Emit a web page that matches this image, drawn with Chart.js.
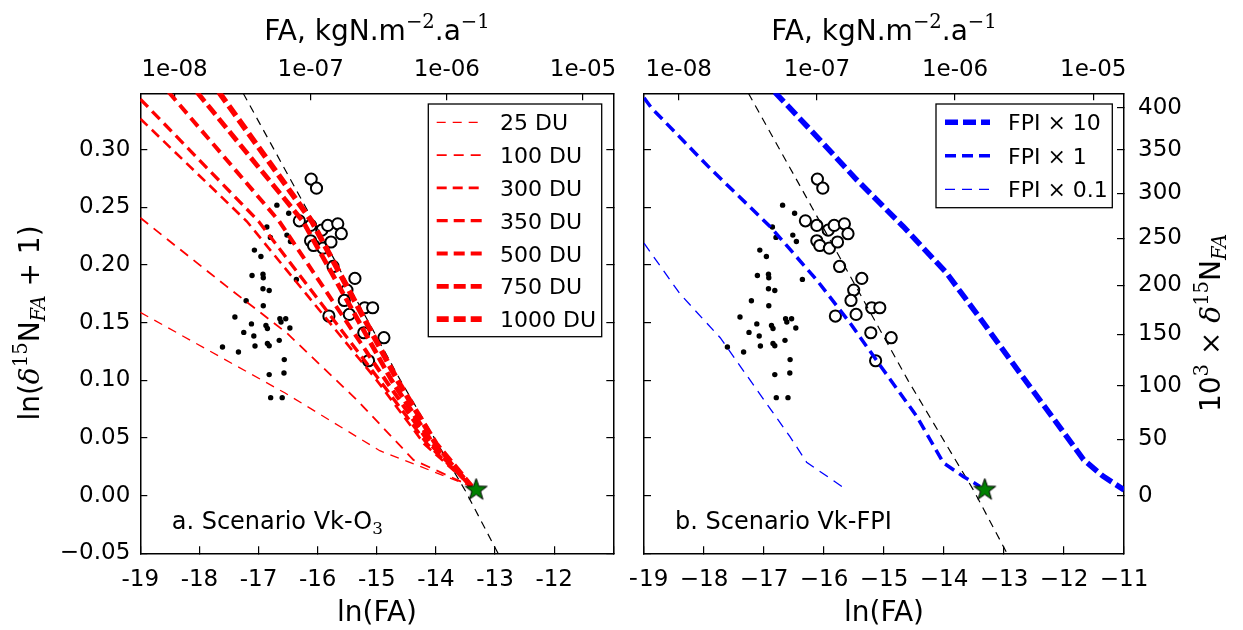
<!DOCTYPE html>
<html>
<head>
<meta charset="utf-8">
<title>Scenario Vk-O3 / Vk-FPI</title>
<script src="https://cdn.jsdelivr.net/npm/chart.js@4.4.1/dist/chart.umd.min.js"></script>
<style>
  html, body { margin: 0; padding: 0; background: #fff; }
  #wrap { position: relative; width: 1243px; height: 630px; overflow: hidden; background: #fff; }
  #wrap canvas { position: absolute; top: 0; }
</style>
</head>
<body>
<div id="wrap">
  <canvas id="panelA" width="630" height="630" style="left:0"></canvas>
  <canvas id="panelB" width="613" height="630" style="left:630px"></canvas>
</div>
<script>
// ---- values ----
const lnFaTicks = [-19, -18, -17, -16, -15, -14, -13, -12, -11];
const yTicks = [-0.05, 0, 0.05, 0.10, 0.15, 0.20, 0.25, 0.30];
const faTicks = [1e-8, 1e-7, 1e-6, 1e-5];
const faTickLabels = ['1e-08', '1e-07', '1e-06', '1e-05'];
const deltaTicks = [0, 50, 100, 150, 200, 250, 300, 350, 400];

// small black dots
const dotsX = [-16.69, -16.49, -16.86, -16.80, -16.52, -16.46, -17.07, -16.96, -17.11, -16.925,
               -16.92, -16.36, -16.925, -16.82, -17.21, -16.92, -17.40, -17.12, -16.64, -16.54,
               -16.62, -16.875, -16.85, -16.47, -17.25, -17.08, -17.61, -17.34, -17.06, -16.85,
               -16.82, -16.65, -16.565, -16.82, -16.57, -16.795, -16.60];
const dotsY = [0.252, 0.245, 0.233, 0.224, 0.226, 0.2205, 0.213, 0.2075, 0.191, 0.192,
               0.189, 0.1876, 0.1795, 0.178, 0.169, 0.1647, 0.155, 0.149, 0.1535, 0.1535,
               0.1506, 0.1477, 0.145, 0.1454, 0.1416, 0.1385, 0.129, 0.1246, 0.1298, 0.132,
               0.130, 0.1347, 0.118, 0.105, 0.1064, 0.085, 0.085];

// open circles
const circlesX = [-16.11, -16.02, -16.31, -16.12, -15.93, -15.83, -15.66, -15.60, -16.12, -16.07,
                  -15.91, -15.775, -15.74, -15.37, -15.505, -15.55, -15.205, -15.07, -15.81, -15.465,
                  -15.22, -14.88, -15.14];
const circlesY = [0.2746, 0.2667, 0.2384, 0.2344, 0.2303, 0.2344, 0.2358, 0.2272, 0.2211, 0.217,
                  0.2147, 0.22, 0.1988, 0.1884, 0.1783, 0.1693, 0.163, 0.163, 0.1558, 0.1572,
                  0.1413, 0.137, 0.117];

const starX = [-13.32];
const starY = [0.005];

// black dashed reference line
const refLine = [[-17.26, 0.349], [-16.2, 0.25], [-14.6, 0.1], [-13.5, 0.004], [-12.95, -0.05]];

// panel a: ozone column scenarios
const duLabels = ['25 DU', '100 DU', '300 DU', '350 DU', '500 DU', '750 DU', '1000 DU'];
const du25 = [[-19, 0.159], [-16.55, 0.089], [-14.95, 0.039], [-13.4, 0.008]];
const du100 = [[-19, 0.241], [-17.54, 0.1815], [-16.52, 0.141], [-15.34, 0.0832], [-14.38, 0.031], [-13.4, 0.008]];
const du300 = [[-19, 0.327], [-17.2, 0.238], [-15.0, 0.100], [-14.2, 0.045], [-13.4, 0.008]];
const du350 = [[-19, 0.344], [-17.0, 0.238], [-14.95, 0.100], [-14.15, 0.045], [-13.4, 0.008]];
const du500 = [[-18.52, 0.35], [-16.65, 0.238], [-14.85, 0.100], [-14.1, 0.045], [-13.4, 0.008]];
const du750 = [[-18.04, 0.35], [-16.25, 0.238], [-14.75, 0.100], [-14.05, 0.045], [-13.4, 0.008]];
const du1000 = [[-17.67, 0.35], [-16.1, 0.238], [-14.65, 0.100], [-14.0, 0.045], [-13.4, 0.008]];

// panel b: FPI scenarios
const fpiLabels = ['FPI \u00d7 10', 'FPI \u00d7 1', 'FPI \u00d7 0.1'];
const fpi10 = [[-16.82, 0.35], [-16.12, 0.3115], [-15.455, 0.274], [-14.68, 0.2335], [-13.955, 0.193],
               [-13.345, 0.150], [-12.73, 0.106], [-12.12, 0.063], [-11.675, 0.0312], [-11.345, 0.0167], [-11.0, 0.005]];
const fpi1 = [[-19, 0.345], [-18.87, 0.336], [-17.9, 0.284], [-16.9, 0.2335], [-16.12, 0.187], [-15.57, 0.150],
              [-15.01, 0.109], [-14.455, 0.0688], [-14.01, 0.0284], [-13.68, 0.0167], [-13.4, 0.008]];
const fpi01 = [[-19, 0.219], [-18.4, 0.175], [-17.73, 0.137], [-17.0, 0.083], [-16.57, 0.0514], [-16.29, 0.029], [-15.62, 0.005]];

// ---- helpers ----
Chart.defaults.font.family = "'DejaVu Sans', sans-serif";
Chart.defaults.color = '#000';

const pts = arr => arr.map(([x, y]) => ({ x, y }));
const zip = (xs, ys) => xs.map((x, i) => ({ x, y: ys[i] }));

function setTicks(values) {
    return scale => { scale.ticks = values.map(v => ({ value: v })); };
}

function fitTo(size) {
    return s => {
        if (s.isHorizontal()) s.height = size; else s.width = size;
        s.paddingLeft = s.paddingRight = s.paddingTop = s.paddingBottom = 0;
    };
}

// text with super/subscripts, drawn on the chart canvas
function drawRich(ctx, parts, x, y, opts) {
    const size = opts.size;
    const fontOf = p => {
        const sz = (p.sup || p.sub) ? size * 0.7 : size;
        const fam = p.f === 's' ? "'DejaVu Sans'" : "'DejaVu Serif'";
        return (p.f === 'i' ? 'italic ' : '') + sz + 'px ' + fam;
    };
    ctx.save();
    ctx.translate(x, y);
    if (opts.rot) ctx.rotate(opts.rot);
    let w = 0;
    const widths = parts.map(p => { ctx.font = fontOf(p); const m = ctx.measureText(p.t).width; w += m; return m; });
    let cx = opts.align === 'center' ? -w / 2 : 0;
    ctx.fillStyle = '#000';
    ctx.textBaseline = 'alphabetic';
    ctx.textAlign = 'left';
    parts.forEach((p, i) => {
        ctx.font = fontOf(p);
        const dy = p.sup ? -size * 0.42 : (p.sub ? size * 0.22 : 0);
        ctx.fillText(p.t, cx, dy);
        cx += widths[i];
    });
    ctx.restore();
}
const S = (t, o) => Object.assign({ t, f: 's' }, o);
const R = (t, o) => Object.assign({ t, f: 'r' }, o);
const I = (t, o) => Object.assign({ t, f: 'i' }, o);

function labelParts(label) {
    const bits = label.split('\u00d7');
    if (bits.length === 1) return [S(label)];
    return [S(bits[0]), R('\u00d7'), S(bits[1])];
}

function makeStar(r) {
    const c = document.createElement('canvas');
    const s = Math.ceil(r * 2 + 4);
    c.width = c.height = s;
    const g = c.getContext('2d');
    g.beginPath();
    for (let i = 0; i < 10; i++) {
        const rad = i % 2 ? r * 0.4 : r;
        const a = -Math.PI / 2 + i * Math.PI / 5;
        g.lineTo(s / 2 + rad * Math.cos(a), s / 2 + rad * Math.sin(a));
    }
    g.closePath();
    g.fillStyle = '#008000';
    g.fill();
    g.strokeStyle = '#000';
    g.lineWidth = 1;
    g.stroke();
    return c;
}
const starImg = makeStar(11.5);

function lineSet(label, data, color, width, dash, inLegend) {
    return {
        label, data: pts(data), showLine: true, borderColor: color, borderWidth: width, borderDash: dash,
        borderCapStyle: 'butt', pointRadius: 0, pointHoverRadius: 0, fill: false, tension: 0, clip: 0,
        order: inLegend ? 1 : 2, inLegend
    };
}

function commonSets() {
    return [
        lineSet('ref', refLine, '#000', 1.2, [8, 6], false),
        { label: 'circles', data: zip(circlesX, circlesY), pointRadius: 5.6, pointHoverRadius: 5.6, pointBorderWidth: 2,
          pointBorderColor: '#000', pointBackgroundColor: '#fff', order: 3 },
        { label: 'dots', data: zip(dotsX, dotsY), pointRadius: 2.7, pointHoverRadius: 2.7, pointBorderWidth: 0,
          pointBackgroundColor: '#000', order: 4 },
        { label: 'star', data: zip(starX, starY), pointStyle: starImg, order: 0 }
    ];
}

function panelScales(isA) {
    const grid = () => ({ display: true, drawOnChartArea: false, drawTicks: true, tickLength: -7, color: '#000', lineWidth: 1.2 });
    const border = () => ({ display: true, color: '#000', width: 1.5 });
    const tick = extra => Object.assign({ font: { size: 23 }, color: '#000', autoSkip: false, maxRotation: 0, minRotation: 0 }, extra);
    return {
        x: {
            type: 'linear', position: 'bottom', min: -19, max: -11, bounds: 'data', grid: grid(), border: border(),
            afterBuildTicks: setTicks(lnFaTicks), afterFit: fitTo(76.7),
            ticks: tick({ padding: 20, callback: v => isA ? (v === -11 ? '' : String(v)) : String(v).replace('-', '\u2212') })
        },
        xTop: {
            type: 'linear', position: 'top', min: -19, max: -11, bounds: 'data', grid: grid(), border: border(),
            afterBuildTicks: setTicks(faTicks.map(Math.log)), afterFit: fitTo(93.3),
            ticks: tick({ padding: 16, callback: (v, i) => faTickLabels[i] })
        },
        y: {
            type: 'linear', position: 'left', min: -0.05, max: 0.349, bounds: 'data', grid: grid(), border: border(),
            afterBuildTicks: setTicks(yTicks), afterFit: fitTo(isA ? 140.3 : 14),
            ticks: tick({ display: isA, padding: 17, callback: v => v < -1e-9 ? '\u2212' + Math.abs(v).toFixed(2) : Math.abs(v).toFixed(2) })
        },
        yR: {
            type: 'linear', position: 'right', min: -0.05, max: 0.349, bounds: 'data', grid: grid(), border: border(),
            afterBuildTicks: setTicks(isA ? yTicks : deltaTicks.map(d => Math.log(1 + d / 1000))),
            afterFit: fitTo(isA ? 16.7 : 119),
            ticks: tick({ display: !isA, padding: 21, callback: (v, i) => String(deltaTicks[i]) })
        }
    };
}

function legendPlugin(cfg) {
    return {
        id: 'boxLegend',
        afterDatasetsDraw(chart) {
            const ctx = chart.ctx;
            const items = chart.data.datasets.filter(d => d.inLegend);
            ctx.save();
            ctx.fillStyle = '#fff';
            ctx.fillRect(cfg.x0, cfg.y0, cfg.x1 - cfg.x0, cfg.y1 - cfg.y0);
            ctx.strokeStyle = '#000';
            ctx.lineWidth = 1.3;
            ctx.strokeRect(cfg.x0, cfg.y0, cfg.x1 - cfg.x0, cfg.y1 - cfg.y0);
            items.forEach((d, i) => {
                const y = cfg.rowY + i * cfg.step;
                ctx.beginPath();
                ctx.setLineDash(d.borderDash);
                ctx.lineCap = 'butt';
                ctx.lineWidth = d.borderWidth;
                ctx.strokeStyle = d.borderColor;
                ctx.moveTo(cfg.sx0, y);
                ctx.lineTo(cfg.sx1, y);
                ctx.stroke();
                ctx.setLineDash([]);
                drawRich(ctx, labelParts(d.label), cfg.tx, y + 8, { size: 22 });
            });
            ctx.restore();
        }
    };
}

function textPlugin(draw) {
    return { id: 'panelText', afterDraw(chart) { draw(chart.ctx); } };
}

const faTitle = [S('FA, kgN.m'), R('\u22122', { sup: 1 }), S('.a'), R('\u22121', { sup: 1 })];

// ---- panel a ----
new Chart(document.getElementById('panelA'), {
    type: 'scatter',
    data: {
        datasets: [
            lineSet(duLabels[0], du25, '#ff0000', 1.3, [9, 7], true),
            lineSet(duLabels[1], du100, '#ff0000', 1.8, [10, 7], true),
            lineSet(duLabels[2], du300, '#ff0000', 2.6, [10, 6], true),
            lineSet(duLabels[3], du350, '#ff0000', 3.3, [11, 6], true),
            lineSet(duLabels[4], du500, '#ff0000', 4.0, [11, 6], true),
            lineSet(duLabels[5], du750, '#ff0000', 4.8, [12, 5], true),
            lineSet(duLabels[6], du1000, '#ff0000', 5.6, [12, 5], true),
            ...commonSets()
        ]
    },
    options: {
        responsive: false, animation: false, events: [],
        layout: { padding: 0, autoPadding: false },
        plugins: { legend: { display: false }, tooltip: { enabled: false } },
        scales: panelScales(true)
    },
    plugins: [
        legendPlugin({ x0: 428.3, y0: 104, x1: 601.7, y1: 336.7, rowY: 122.3, step: 32.8, sx0: 436.7, sx1: 481.7, tx: 500 }),
        textPlugin(ctx => {
            drawRich(ctx, faTitle, 377, 40, { size: 28, align: 'center' });
            drawRich(ctx, [S('ln(FA)')], 377, 621, { size: 28, align: 'center' });
            drawRich(ctx, [S('ln('), I('\u03b4'), R('15', { sup: 1 }), S('N'), I('FA', { sub: 1 }), S(' + 1)')],
                     39, 323, { size: 28, align: 'center', rot: -Math.PI / 2 });
            drawRich(ctx, [S('a. Scenario Vk-O'), R('3', { sub: 1 })], 171.7, 529, { size: 24 });
        })
    ]
});

// ---- panel b ----
new Chart(document.getElementById('panelB'), {
    type: 'scatter',
    data: {
        datasets: [
            lineSet(fpiLabels[0], fpi10, '#0000ff', 5.5, [13, 5], true),
            lineSet(fpiLabels[1], fpi1, '#0000ff', 3.5, [11, 6], true),
            lineSet(fpiLabels[2], fpi01, '#0000ff', 1.3, [10, 7], true),
            ...commonSets()
        ]
    },
    options: {
        responsive: false, animation: false, events: [],
        layout: { padding: 0, autoPadding: false },
        plugins: { legend: { display: false }, tooltip: { enabled: false } },
        scales: panelScales(false)
    },
    plugins: [
        legendPlugin({ x0: 306, y0: 104, x1: 482.3, y1: 207.7, rowY: 122.3, step: 33.5, sx0: 315, sx1: 360, tx: 378 }),
        textPlugin(ctx => {
            drawRich(ctx, faTitle, 254, 40, { size: 28, align: 'center' });
            drawRich(ctx, [S('ln(FA)')], 254, 621, { size: 28, align: 'center' });
            drawRich(ctx, [S('10'), R('3', { sup: 1 }), R(' \u00d7 '), I('\u03b4'), R('15', { sup: 1 }), S('N'), I('FA', { sub: 1 })],
                     590, 323, { size: 28, align: 'center', rot: -Math.PI / 2 });
            drawRich(ctx, [S('b. Scenario Vk-FPI')], 45, 529, { size: 24 });
        })
    ]
});
</script>
</body>
</html>
